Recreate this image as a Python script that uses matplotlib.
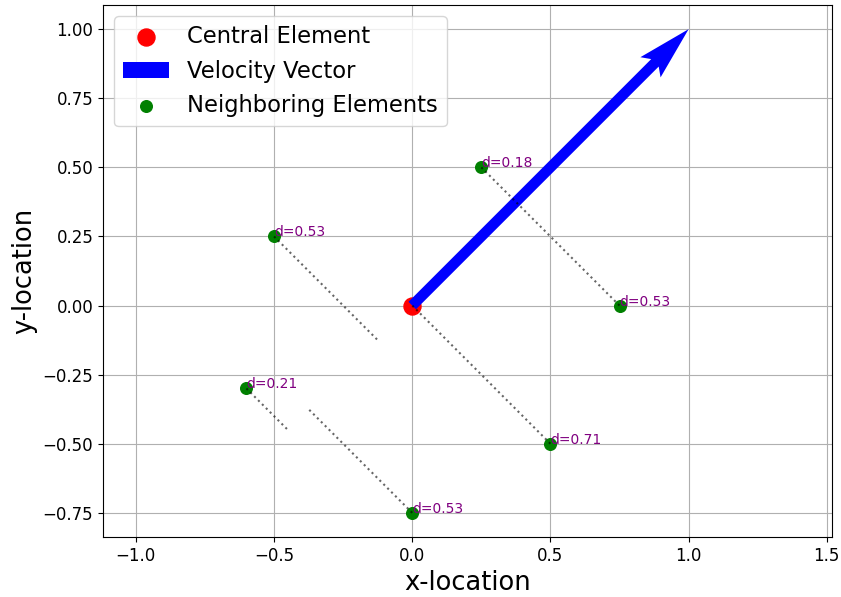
import numpy as np
import matplotlib
matplotlib.use("Agg")
import matplotlib.pyplot as plt

# Central element and its velocity
center = (0.0, 0.0)
velocity = (1.0, 1.0)

# Neighboring element positions
neighbor_x = [0.25, -0.5, 0.75, -0.6, 0.5, 0.0]
neighbor_y = [0.5, 0.25, 0.0, -0.3, -0.5, -0.75]

fig = plt.figure(figsize=(8.41, 5.97), dpi=100)
ax = fig.add_axes([103 / 841, 60 / 597, 729 / 841, 532 / 597])

ax.scatter(center[0], center[1], s=150, color="red", label="Central Element", zorder=2)
ax.quiver(center[0], center[1], velocity[0], velocity[1],
          angles="xy", scale_units="xy", scale=1, color="blue",
          width=0.0145, headwidth=2.7, headlength=5.1, headaxislength=4.5,
          label="Velocity Vector", zorder=3)
ax.scatter(neighbor_x, neighbor_y, s=70, color="green",
           label="Neighboring Elements", zorder=3)

# Perpendicular distance of each neighbor from the velocity line,
# with a dotted segment down to its projection on that line
v = np.array(velocity)
v_hat = v / np.linalg.norm(v)
for x, y in zip(neighbor_x, neighbor_y):
    rel = np.array([x, y]) - np.array(center)
    proj = np.array(center) + np.dot(rel, v_hat) * v_hat
    dist = abs(rel[0] * v_hat[1] - rel[1] * v_hat[0])
    ax.plot([x, proj[0]], [y, proj[1]], linestyle=":", color="k",
            alpha=0.6, linewidth=1.5, zorder=4)
    ax.text(x, y, f"d={dist:.2f}", color="purple", fontsize=10, zorder=5)

# Make sure the arrow tip is inside the view
tip = np.array(center) + v
ax.update_datalim([tip])
ax.autoscale_view()

ax.set_aspect("equal", adjustable="datalim")
ax.grid(True)
ax.set_xlabel("x-location", fontsize=18.5)
ax.set_ylabel("y-location", fontsize=18.5)
ax.tick_params(labelsize=12)
ax.legend(loc="upper left", fontsize=16.3)

fig.savefig("out.png", dpi=100)
